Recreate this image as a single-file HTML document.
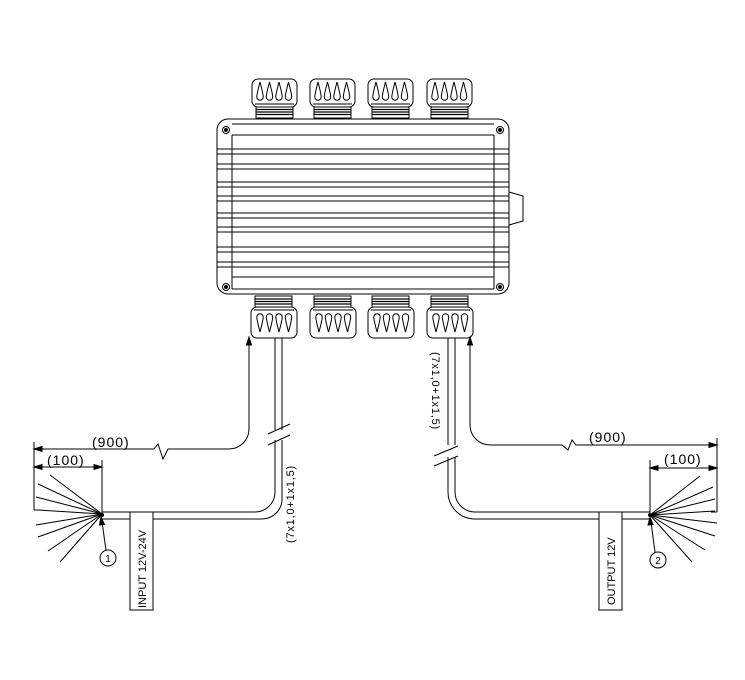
<!DOCTYPE html>
<html><head><meta charset="utf-8"><style>html,body{margin:0;padding:0;background:#fff}svg{display:block}text{font-family:"Liberation Sans",Arial,sans-serif}</style></head>
<body>
<svg width="745" height="680" viewBox="0 0 745 680" xmlns="http://www.w3.org/2000/svg" fill="none" stroke="#000" stroke-width="1">
<defs>
<g id="drop"><path d="M0,-10 C1.5,-4 3.2,2 3.2,5 A3.2,3.2 0 0 1 -3.2,5 C-3.2,2 -1.5,-4 0,-10Z"/></g>
<g id="capT">
 <rect x="0" y="0" width="45" height="28" rx="6"/>
 <line x1="3" y1="25" x2="42" y2="25"/>
 <use href="#drop" x="8" y="13"/><use href="#drop" x="17.5" y="13"/><use href="#drop" x="27" y="13"/><use href="#drop" x="36.5" y="13"/>
 <rect x="4" y="28" width="37" height="11" fill="#fff"/>
 <line x1="4" y1="30.5" x2="41" y2="30.5" stroke-width="1.2"/><line x1="4" y1="33" x2="41" y2="33" stroke-width="1.2"/><line x1="4" y1="35.5" x2="41" y2="35.5" stroke-width="1.2"/>
</g>
<g id="capB">
 <rect x="4" y="0" width="37" height="11"/>
 <line x1="4" y1="3" x2="41" y2="3" stroke-width="1.2"/><line x1="4" y1="5.5" x2="41" y2="5.5" stroke-width="1.2"/><line x1="4" y1="8" x2="41" y2="8" stroke-width="1.2"/>
 <rect x="0" y="11" width="46" height="31" rx="6"/>
 <line x1="3" y1="14" x2="43" y2="14"/>
 <g transform="rotate(180 23 26)"><use href="#drop" x="8.5" y="26"/><use href="#drop" x="18" y="26"/><use href="#drop" x="27.5" y="26"/><use href="#drop" x="37" y="26"/></g>
</g>
</defs>

<use href="#capT" x="252" y="79"/><use href="#capT" x="310" y="79"/><use href="#capT" x="368" y="79"/><use href="#capT" x="427" y="79"/>

<rect x="217" y="119" width="292" height="175" rx="11"/>
<path d="M509,192 L523,196 L523,221 L509,225"/>
<line x1="232" y1="124" x2="494" y2="124"/>
<line x1="232" y1="135" x2="494" y2="135"/>
<line x1="232" y1="277" x2="494" y2="277"/>
<line x1="232" y1="289" x2="494" y2="289"/>
<line x1="232" y1="135" x2="232" y2="289"/>
<line x1="494" y1="135" x2="494" y2="289"/>
<g>
<line x1="217" y1="149" x2="509" y2="149"/><line x1="217" y1="154" x2="509" y2="154"/>
<line x1="217" y1="164" x2="509" y2="164"/><line x1="217" y1="169" x2="509" y2="169"/>
<line x1="217" y1="182" x2="509" y2="182"/><line x1="217" y1="187" x2="509" y2="187"/>
<line x1="217" y1="196" x2="509" y2="196"/><line x1="217" y1="201" x2="509" y2="201"/>
<line x1="217" y1="213" x2="509" y2="213"/><line x1="217" y1="218" x2="509" y2="218"/>
<line x1="217" y1="227" x2="509" y2="227"/><line x1="217" y1="232" x2="509" y2="232"/>
<line x1="217" y1="247" x2="509" y2="247"/><line x1="217" y1="252" x2="509" y2="252"/>
<line x1="217" y1="262" x2="509" y2="262"/><line x1="217" y1="267" x2="509" y2="267"/>
</g>
<g>
<circle cx="226" cy="130" r="3.5"/><circle cx="226" cy="130" r="1.5" fill="#000"/>
<circle cx="500" cy="130" r="3.5"/><circle cx="500" cy="130" r="1.5" fill="#000"/>
<circle cx="226" cy="287" r="3.5"/><circle cx="226" cy="287" r="1.5" fill="#000"/>
<circle cx="500" cy="287" r="3.5"/><circle cx="500" cy="287" r="1.5" fill="#000"/>
</g>

<use href="#capB" x="251" y="296"/><use href="#capB" x="310" y="296"/><use href="#capB" x="368" y="296"/><use href="#capB" x="427" y="296"/>

<path d="M275,338 V430 M275,440 V492 A20,20 0 0 1 255,512 H102"/>
<path d="M282,338 V430 M282,440 V499 A20,20 0 0 1 262,519 H102"/>
<path d="M268,434 L290,424 M268,445 L290,435"/>
<path d="M249,340 V429 A20,20 0 0 1 229,449 H168 L163,459 L158,444 L154,449 H36"/>
<path d="M249,337 l-2.5,8 h5z" fill="#000"/>
<path d="M34,449 l8,-2.5 v5z" fill="#000"/>
<line x1="34" y1="442" x2="34" y2="510"/>
<line x1="36" y1="467" x2="100" y2="467"/>
<path d="M34,467 l8,-2.5 v5z" fill="#000"/>
<path d="M102,467 l-8,-2.5 v5z" fill="#000"/>
<line x1="102" y1="460" x2="102" y2="514"/>
<line x1="34" y1="510" x2="40" y2="510"/>
<g>
<line x1="102" y1="514" x2="50" y2="475"/>
<line x1="102" y1="514" x2="38" y2="484"/>
<line x1="102" y1="514" x2="36" y2="497"/>
<line x1="102" y1="514" x2="38" y2="510"/>
<line x1="102" y1="514" x2="36" y2="525"/>
<line x1="102" y1="514" x2="38" y2="537"/>
<line x1="102" y1="514" x2="48" y2="551"/>
<line x1="102" y1="514" x2="60" y2="562"/>
</g>
<circle cx="102" cy="515" r="1.5" fill="#000"/>
<line x1="106" y1="550" x2="102" y2="522"/>
<path d="M101,517 l-1.5,8 l5,-0.5z" fill="#000"/>
<circle cx="108" cy="558" r="8"/>
<text x="108" y="562" font-size="10" fill="#000" stroke="none" text-anchor="middle">1</text>
<rect x="130" y="512" width="23" height="98" fill="#fff"/>
<text transform="translate(146,608) rotate(-90)" font-size="11" fill="#000" stroke="none">INPUT 12V-24V</text>
<text transform="translate(294,543) rotate(-90)" font-size="11" fill="#000" stroke="none" letter-spacing="0.8">(7x1,0+1x1,5)</text>
<text x="92" y="447" font-size="14" fill="#000" stroke="none" letter-spacing="1">(900)</text>
<text x="47" y="465" font-size="14" fill="#000" stroke="none" letter-spacing="1">(100)</text>

<path d="M448,338 V445 M448,457 V492 A27,27 0 0 0 475,519 H650"/>
<path d="M455,338 V445 M455,457 V492 A20,20 0 0 0 475,512 H650"/>
<path d="M434,456 L458,446 M434,466 L458,456"/>
<text transform="translate(432,352) rotate(90)" font-size="11" fill="#000" stroke="none" letter-spacing="0.8">(7x1,0+1x1,5)</text>
<path d="M470,340 V425 A20,20 0 0 0 490,445 H562 L568,450 L572,440 L576,445 H715"/>
<path d="M470,337 l-2.5,8 h5z" fill="#000"/>
<path d="M717,445 l-8,-2.5 v5z" fill="#000"/>
<line x1="717" y1="438" x2="717" y2="512"/>
<line x1="711" y1="512" x2="717" y2="512"/>
<line x1="652" y1="468" x2="715" y2="468"/>
<path d="M650,468 l8,-2.5 v5z" fill="#000"/>
<path d="M717,468 l-8,-2.5 v5z" fill="#000"/>
<line x1="650" y1="460" x2="650" y2="515"/>
<text x="589" y="442" font-size="14" fill="#000" stroke="none" letter-spacing="1">(900)</text>
<text x="664" y="464" font-size="14" fill="#000" stroke="none" letter-spacing="1">(100)</text>
<g>
<line x1="650" y1="515" x2="700" y2="476"/>
<line x1="650" y1="515" x2="713" y2="487"/>
<line x1="650" y1="515" x2="715" y2="499"/>
<line x1="650" y1="515" x2="715" y2="511"/>
<line x1="650" y1="515" x2="717" y2="523"/>
<line x1="650" y1="515" x2="715" y2="536"/>
<line x1="650" y1="515" x2="705" y2="550"/>
<line x1="650" y1="515" x2="692" y2="562"/>
</g>
<circle cx="650" cy="515" r="1.5" fill="#000"/>
<line x1="655" y1="552" x2="651" y2="522"/>
<path d="M650,517 l-2,8 l5,-0.5z" fill="#000"/>
<circle cx="658" cy="560" r="8"/>
<text x="658" y="564" font-size="10" fill="#000" stroke="none" text-anchor="middle">2</text>
<rect x="599" y="512" width="23" height="98" fill="#fff"/>
<text transform="translate(615,605) rotate(-90)" font-size="11" fill="#000" stroke="none">OUTPUT 12V</text>
</svg>
</body></html>
